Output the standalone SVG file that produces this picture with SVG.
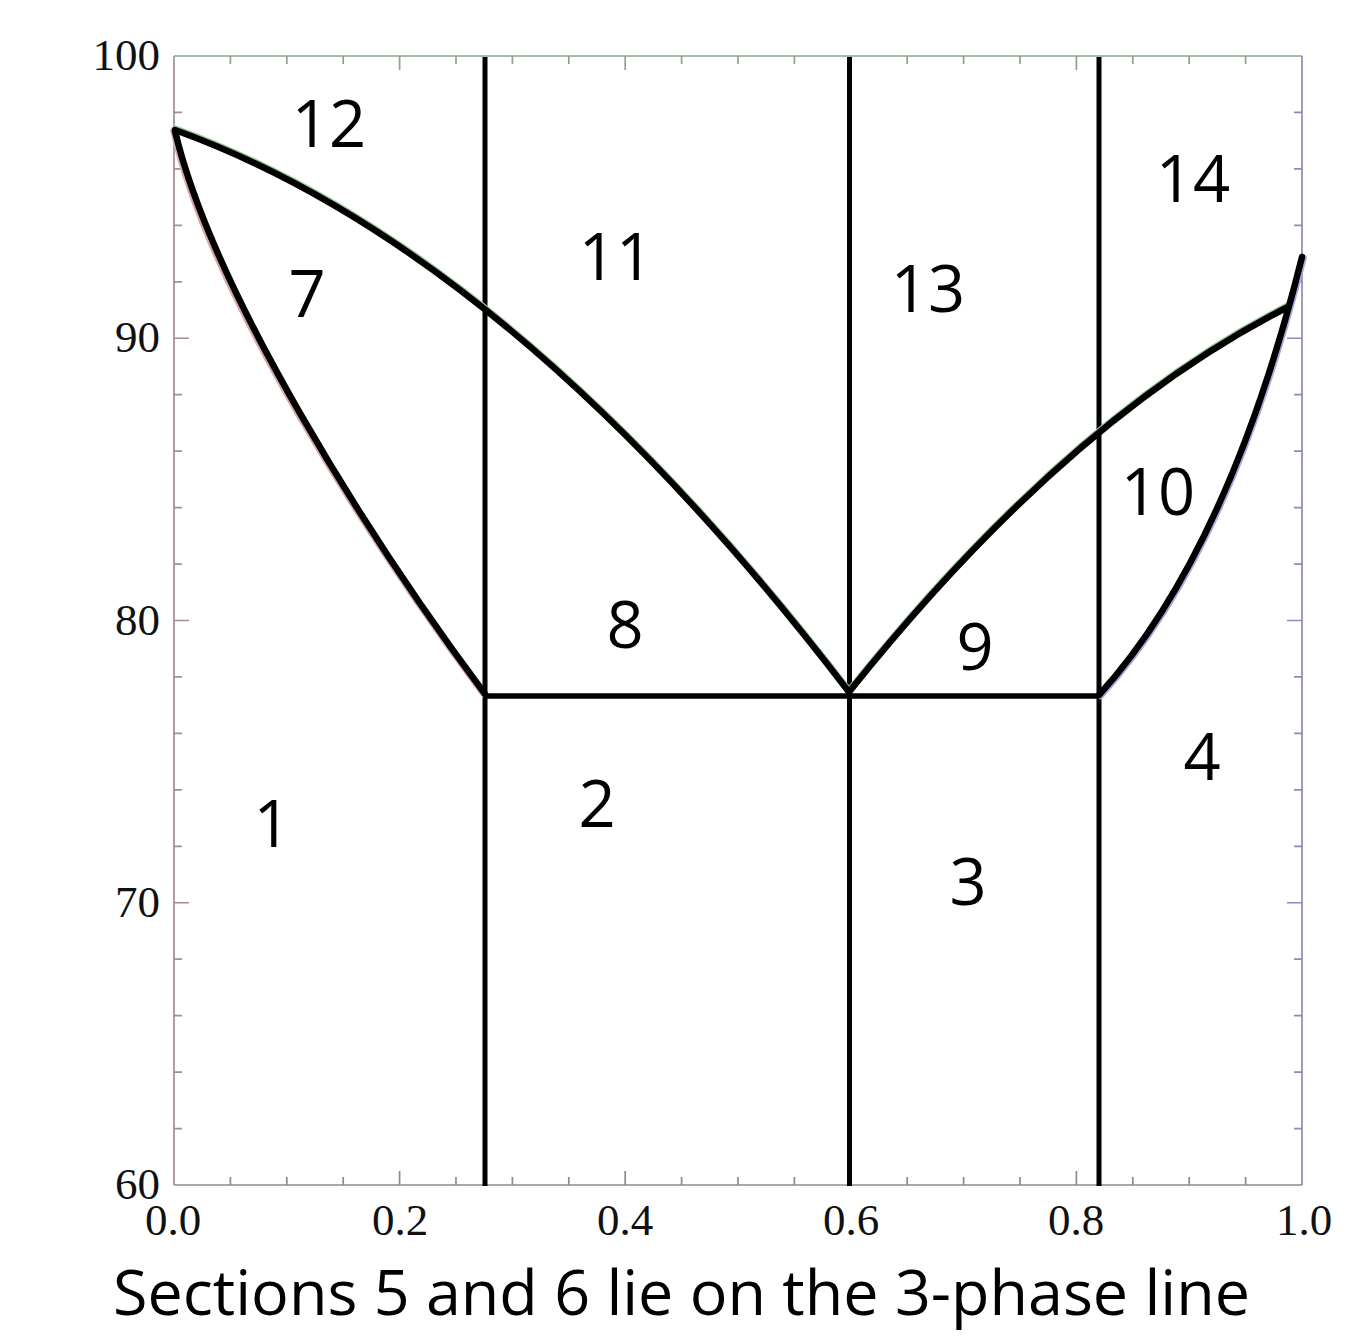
<svg xmlns="http://www.w3.org/2000/svg" width="1348" height="1338" viewBox="0 0 1348 1338">
<style>
.ax{fill:none;stroke-width:1.7}
.axL{stroke:#a48f8f}.axT{stroke:#8aa58a}.axR{stroke:#8c8cb4}.axB{stroke:#8c8c8c}
.tk{font-family:"Liberation Serif","Times New Roman",serif;font-size:45px;fill:#111}
.curve{fill:none;stroke:#000;stroke-width:6.5;stroke-linecap:round;stroke-linejoin:round}
.halo{fill:none;stroke-width:6.5;stroke-linecap:round}
.vline{fill:none;stroke:#000;stroke-width:5}
.lbl{font-family:"Open Sans","Noto Sans",sans-serif;font-size:65px;fill:#000;text-anchor:middle}
.cap{font-family:"Open Sans","Noto Sans",sans-serif;font-size:62px;fill:#000}
</style>
<rect width="1348" height="1338" fill="#fff"/>
<g id="axes">
<line class="ax axL" x1="174" y1="56" x2="174" y2="1185"/>
<line class="ax axT" x1="174" y1="56" x2="1302" y2="56"/>
<line class="ax axR" x1="1302" y1="56" x2="1302" y2="1185"/>
<line class="ax axB" x1="174" y1="1185" x2="1302" y2="1185"/>
<path class="ax axT" d="M230.4 56v8M286.8 56v8M343.2 56v8M399.6 56v14M456 56v8M512.4 56v8M568.8 56v8M625.2 56v14M681.6 56v8M738 56v8M794.4 56v8M850.8 56v14M907.2 56v8M963.6 56v8M1020 56v8M1076.4 56v14M1132.8 56v8M1189.2 56v8M1245.6 56v8"/>
<path class="ax axB" d="M230.4 1185v-8M286.8 1185v-8M343.2 1185v-8M399.6 1185v-14M456 1185v-8M512.4 1185v-8M568.8 1185v-8M625.2 1185v-14M681.6 1185v-8M738 1185v-8M794.4 1185v-8M850.8 1185v-14M907.2 1185v-8M963.6 1185v-8M1020 1185v-8M1076.4 1185v-14M1132.8 1185v-8M1189.2 1185v-8M1245.6 1185v-8"/>
<path class="ax axL" d="M174 112.45h8M174 168.9h8M174 225.35h8M174 281.8h8M174 338.25h15M174 394.7h8M174 451.15h8M174 507.6h8M174 564.05h8M174 620.5h15M174 676.95h8M174 733.4h8M174 789.85h8M174 846.3h8M174 902.75h15M174 959.2h8M174 1015.65h8M174 1072.1h8M174 1128.55h8"/>
<path class="ax axR" d="M1302 112.45h-8M1302 168.9h-8M1302 225.35h-8M1302 281.8h-8M1302 338.25h-15M1302 394.7h-8M1302 451.15h-8M1302 507.6h-8M1302 564.05h-8M1302 620.5h-15M1302 676.95h-8M1302 733.4h-8M1302 789.85h-8M1302 846.3h-8M1302 902.75h-15M1302 959.2h-8M1302 1015.65h-8M1302 1072.1h-8M1302 1128.55h-8"/>
</g>
<g id="tick-labels">
<text class="tk" x="160" y="70" text-anchor="end">100</text>
<text class="tk" x="160" y="352" text-anchor="end">90</text>
<text class="tk" x="160" y="635" text-anchor="end">80</text>
<text class="tk" x="160" y="917" text-anchor="end">70</text>
<text class="tk" x="160" y="1199" text-anchor="end">60</text>
<text class="tk" x="173" y="1235" text-anchor="middle">0.0</text>
<text class="tk" x="400" y="1235" text-anchor="middle">0.2</text>
<text class="tk" x="625" y="1235" text-anchor="middle">0.4</text>
<text class="tk" x="851" y="1235" text-anchor="middle">0.6</text>
<text class="tk" x="1076" y="1235" text-anchor="middle">0.8</text>
<text class="tk" x="1304" y="1235" text-anchor="middle">1.0</text>
</g>
<g id="connectors">
<line class="vline" x1="485" y1="57" x2="485" y2="1186"/>
<line class="vline" x1="849.5" y1="57" x2="849.5" y2="1186"/>
<line class="vline" x1="1099" y1="57" x2="1099" y2="1186"/>
<line x1="485" y1="696" x2="1099" y2="696" stroke="#000" stroke-width="5.5"/>
<path class="halo" stroke="#9cc89c" d="M175 128.5 Q511.5 250 849 690.5"/>
<path class="halo" stroke="#d7a8a8" d="M173.5 131 C208.5 290 368.5 540 483.5 694"/>
<path class="halo" stroke="#9cc89c" d="M849 690.5 Q1068 416.5 1288 305.5"/>
<path class="halo" stroke="#a8a8e0" d="M1100.5 696 Q1229.5 554 1303.5 258"/>
<path class="curve" d="M175 130 Q511.5 251.5 849 692"/>
<path class="curve" d="M175 131 C213 292 370 540 485 694"/>
<path class="curve" d="M849 692 Q1068 418 1288 307"/>
<path class="curve" d="M1099 695 Q1228 553 1302 257"/>
</g>
<g id="n1"><text class="lbl" x="272" y="847">1</text></g>
<g id="n2"><text class="lbl" x="597" y="827">2</text></g>
<g id="n3"><text class="lbl" x="968" y="905">3</text></g>
<g id="n4"><text class="lbl" x="1202" y="780">4</text></g>
<g id="n7"><text class="lbl" x="307" y="317">7</text></g>
<g id="n8"><text class="lbl" x="625" y="648">8</text></g>
<g id="n9"><text class="lbl" x="975" y="670">9</text></g>
<g id="n10"><text class="lbl" x="1158" y="515">10</text></g>
<g id="n11"><text class="lbl" x="616" y="280">11</text></g>
<g id="n12"><text class="lbl" x="329" y="147">12</text></g>
<g id="n13"><text class="lbl" x="928" y="312">13</text></g>
<g id="n14"><text class="lbl" x="1193" y="202">14</text></g>
<g id="caption"><text class="cap" x="113" y="1315" textLength="1137" lengthAdjust="spacingAndGlyphs">Sections 5 and 6 lie on the 3-phase line</text></g>
</svg>
